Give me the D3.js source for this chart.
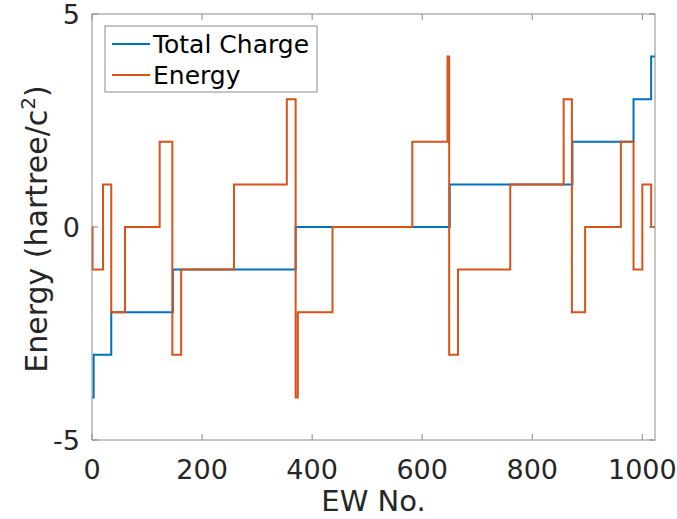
<!DOCTYPE html>
<html>
<head>
<meta charset="utf-8">
<script src="https://cdn.jsdelivr.net/npm/d3@7"></script>
<style>
    body { margin: 0; background: #fff; }
    svg { display: block; font-family: "DejaVu Sans", sans-serif; }
    .tick-label { fill: #262626; font-size: 27px; }
    .axis-label { fill: #262626; font-size: 29px; }
    .legend-text { fill: #000; font-size: 25px; }
</style>
</head>
<body>
<div id="chart"></div>
<script>
// step series: x where the value changes, and the value from there on
const xEnd = 1023;
const chargeX = [0, 3, 35, 147, 370, 650, 873, 984, 1016];
const chargeY = [-4, -3, -2, -1, 0, 1, 2, 3, 4];
const energyX = [0, 1, 20, 35, 60, 123, 146, 162, 258, 354, 370, 374, 437, 582, 646, 649, 665, 760, 857, 872, 896, 961, 984, 1000, 1016];
const energyY = [0, -1, 1, -2, 0, 2, -3, -1, 1, 3, -4, -2, 0, 2, 4, -3, -1, 1, 3, -2, 0, 2, -1, 1, 0];
const xTicks = [0, 200, 400, 600, 800, 1000];
const yTicks = [-5, 0, 5];
const seriesNames = ["Total Charge", "Energy"];
const seriesColors = ["#0072BD", "#D95319"];

const width = 677, height = 519;
const margin = { top: 14, right: 22, bottom: 79, left: 92 };
const innerW = width - margin.left - margin.right;
const innerH = height - margin.top - margin.bottom;

const svg = d3.select("#chart").append("svg")
    .attr("width", width)
    .attr("height", height);

const g = svg.append("g")
    .attr("transform", `translate(${margin.left},${margin.top})`);

const x = d3.scaleLinear().domain([0, xEnd]).range([0, innerW]);
const y = d3.scaleLinear().domain([-5, 5]).range([innerH, 0]);

function toPoints(xs, ys) {
    let pts = xs.map((v, i) => [v, ys[i]]);
    pts.push([xEnd, ys[ys.length - 1]]);
    return pts;
}

const line = d3.line()
    .x(d => x(d[0]))
    .y(d => y(d[1]))
    .curve(d3.curveStepAfter);

const series = [toPoints(chargeX, chargeY), toPoints(energyX, energyY)];

g.selectAll(".series")
    .data(series)
    .join("path")
    .attr("class", "series")
    .attr("d", line)
    .attr("fill", "none")
    .attr("stroke", (d, i) => seriesColors[i])
    .attr("stroke-width", 2);

// box and inward ticks, MATLAB style
const axisColor = "#8c8c8c";
const tickLen = 6;

g.append("rect")
    .attr("x", 0).attr("y", 0)
    .attr("width", innerW).attr("height", innerH)
    .attr("fill", "none")
    .attr("stroke", axisColor)
    .attr("stroke-width", 1);

xTicks.forEach(t => {
    g.append("line")
        .attr("x1", x(t)).attr("x2", x(t))
        .attr("y1", innerH).attr("y2", innerH - tickLen)
        .attr("stroke", axisColor);
    g.append("line")
        .attr("x1", x(t)).attr("x2", x(t))
        .attr("y1", 0).attr("y2", tickLen)
        .attr("stroke", axisColor);
    g.append("text")
        .attr("class", "tick-label")
        .attr("x", x(t))
        .attr("y", innerH + 39)
        .attr("text-anchor", "middle")
        .text(t);
});

yTicks.forEach(t => {
    g.append("line")
        .attr("x1", 0).attr("x2", tickLen)
        .attr("y1", y(t)).attr("y2", y(t))
        .attr("stroke", axisColor);
    g.append("line")
        .attr("x1", innerW).attr("x2", innerW - tickLen)
        .attr("y1", y(t)).attr("y2", y(t))
        .attr("stroke", axisColor);
    g.append("text")
        .attr("class", "tick-label")
        .attr("x", -12)
        .attr("y", y(t) + 10)
        .attr("text-anchor", "end")
        .text(t);
});

// axis labels
svg.append("text")
    .attr("class", "axis-label")
    .attr("x", margin.left + innerW / 2)
    .attr("y", 511)
    .attr("text-anchor", "middle")
    .text("EW No.");

const yLab = svg.append("text")
    .attr("class", "axis-label")
    .style("font-size", "30px")
    .attr("transform", `translate(47,${margin.top + innerH / 2 + 2}) rotate(-90)`)
    .attr("text-anchor", "middle");
yLab.append("tspan").text("Energy (hartree/c");
yLab.append("tspan").attr("dy", -12).attr("font-size", "20px").text("2");
yLab.append("tspan").attr("dy", 12).text(")");

// legend
const legend = svg.append("g").attr("transform", "translate(105,26)");
legend.append("rect")
    .attr("width", 212).attr("height", 66)
    .attr("fill", "#fff")
    .attr("stroke", axisColor);

seriesNames.forEach((name, i) => {
    let row = legend.append("g").attr("transform", `translate(0,${18 + i * 31})`);
    row.append("line")
        .attr("x1", 7).attr("x2", 45)
        .attr("y1", 0).attr("y2", 0)
        .attr("stroke", seriesColors[i])
        .attr("stroke-width", 2);
    row.append("text")
        .attr("class", "legend-text")
        .attr("x", 48)
        .attr("y", 9)
        .text(name);
});
</script>
</body>
</html>
